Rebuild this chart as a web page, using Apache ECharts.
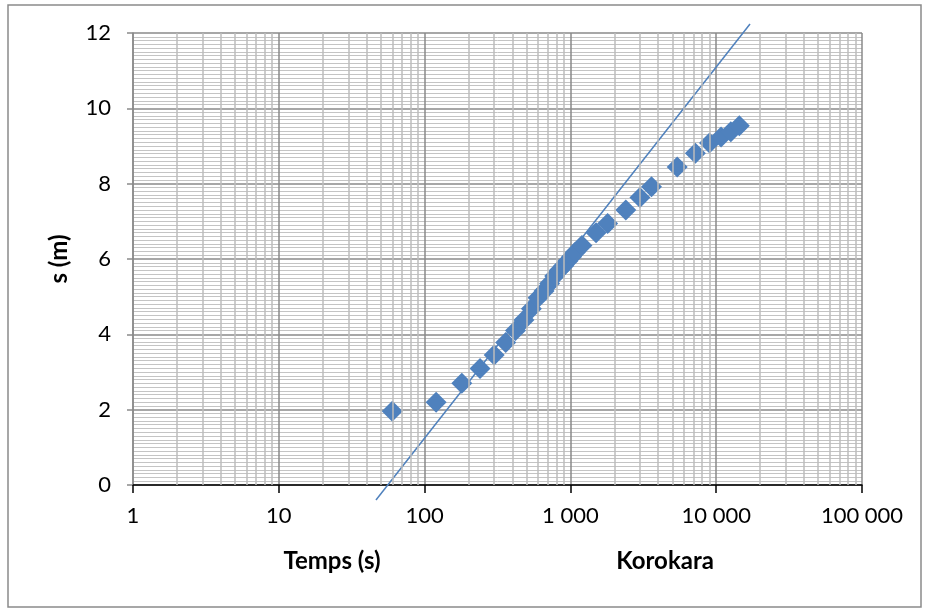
<!DOCTYPE html>
<html>
<head>
<meta charset="utf-8">
<script src="https://cdn.jsdelivr.net/npm/echarts@6/dist/echarts.min.js"></script>
<style>
  html, body {margin: 0; padding: 0; background: #fff;}
  #chart {width: 928px; height: 609px;}
</style>
</head>
<body>
<div id="chart"></div>
<script>
// measured points: time (s) and depth s (m)
var times = [60, 120, 180, 240, 300, 360, 420, 480, 540, 600, 660, 720, 780, 840, 900, 960, 1020, 1080,
             1200, 1500, 1800, 2400, 3000, 3600, 5400, 7200, 9000, 10800, 12600, 14400];
var depths = [1.96, 2.20, 2.70, 3.09, 3.45, 3.78, 4.10, 4.38, 4.68, 4.97, 5.15, 5.35, 5.55, 5.70, 5.82, 5.95, 6.06, 6.18,
              6.36, 6.70, 6.94, 7.30, 7.63, 7.92, 8.44, 8.81, 9.08, 9.24, 9.38, 9.54];
// straight-line fit drawn as in the source (two ends)
var fitTimes = [46.4, 17060];
var fitDepths = [-0.40, 12.24];
var yTicks = {min: 0, max: 12, step: 2};
var xTicks = {min: 1, max: 100000};

// log minor grid values 2..9 in each decade
var minorX = [];
for (var d = 1; d < xTicks.max; d *= 10) {
    for (var k = 2; k <= 9; k++) minorX.push(k * d);
}

function spaced(v) {
    return String(Math.round(v)).replace(/\B(?=(\d{3})+(?!\d))/g, ' ');
}

var font = 'Lato, "Open Sans", sans-serif';
var blue = '#4f81bd';

var chart = echarts.init(document.getElementById('chart'));
chart.setOption({
    animation: false,
    textStyle: {fontFamily: font},
    grid: {left: 133, right: 66, top: 33, bottom: 124},
    xAxis: {
        type: 'log', logBase: 10, min: xTicks.min, max: xTicks.max,
        axisLine: {show: true, onZero: false, lineStyle: {color: '#000', width: 1.5}},
        axisTick: {show: true, length: 8, lineStyle: {color: '#000', width: 1.5}},
        axisLabel: {fontSize: 22, color: '#000', margin: 20, formatter: spaced},
        splitLine: {show: true, lineStyle: {color: '#8a8a8a', width: 1.5}},
        minorTick: {show: false},
        minorSplitLine: {show: false}
    },
    yAxis: {
        type: 'value', min: yTicks.min, max: yTicks.max, interval: yTicks.step,
        name: 's (m)', nameLocation: 'middle', nameGap: 62,
        nameTextStyle: {fontSize: 24, fontWeight: 'bold', color: '#000', fontFamily: font},
        axisLine: {show: true, lineStyle: {color: '#8a8a8a', width: 1.5}},
        axisTick: {show: true, length: 6, lineStyle: {color: '#8a8a8a', width: 1.5}},
        axisLabel: {fontSize: 22, color: '#000', margin: 22},
        splitLine: {show: true, lineStyle: {color: '#8a8a8a', width: 1.5}},
        minorTick: {show: false, splitNumber: 20},
        minorSplitLine: {show: true, lineStyle: {color: '#c4c4c4', width: 1}}
    },
    graphic: [
        {type: 'rect', shape: {x: 8, y: 5, width: 913, height: 602}, silent: true, z: -10,
         style: {fill: 'none', stroke: '#8a8a8a', lineWidth: 1.5}},
        {type: 'text', x: 332, y: 561, silent: true,
         style: {text: 'Temps (s)', font: 'bold 24px ' + font, fill: '#000', textAlign: 'center', textVerticalAlign: 'middle'}},
        {type: 'text', x: 665, y: 561, silent: true,
         style: {text: 'Korokara', font: 'bold 24px ' + font, fill: '#000', textAlign: 'center', textVerticalAlign: 'middle'}}
    ],
    series: [
        {
            type: 'scatter', data: [], z: 1, silent: true,
            markLine: {
                silent: true, symbol: 'none', label: {show: false},
                lineStyle: {color: '#bdbdbd', width: 1.5, type: 'solid'},
                data: minorX.map(function (v) { return {xAxis: v}; })
            }
        },
        {
            type: 'line', z: 3, clip: false, symbol: 'none', silent: true,
            lineStyle: {color: blue, width: 1.5},
            data: fitTimes.map(function (t, i) { return [t, fitDepths[i]]; })
        },
        {
            type: 'scatter', z: 4, symbol: 'diamond', symbolSize: [21, 21],
            itemStyle: {color: blue, opacity: 1},
            data: times.map(function (t, i) { return [t, depths[i]]; })
        }
    ]
});
</script>
</body>
</html>
